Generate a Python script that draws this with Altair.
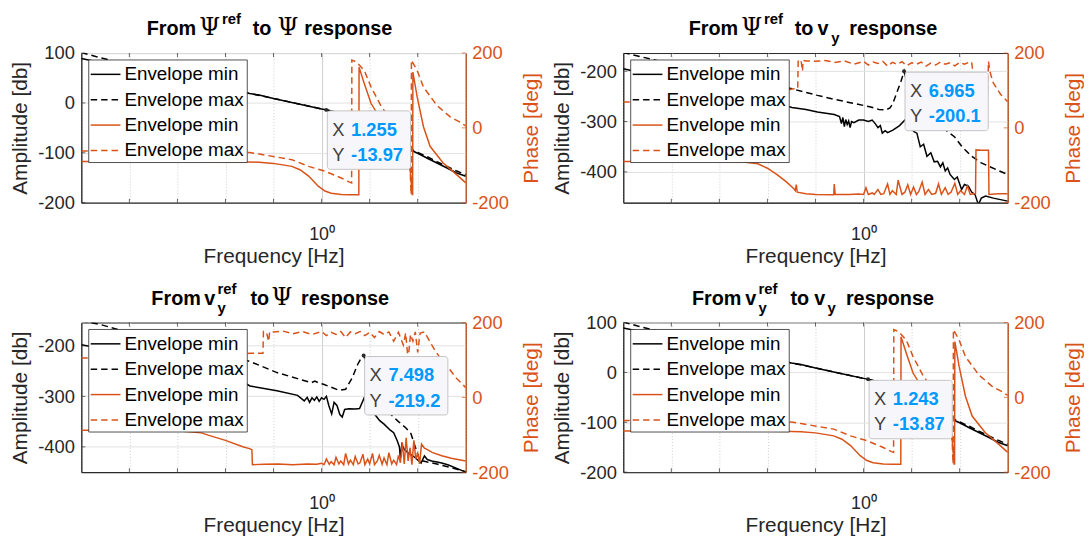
import altair as alt
import pandas as pd

FONT = "Liberation Sans"
SERIF = "DejaVu Serif"
DARK = "#262626"
ORANGE = "#D95319"
BLUE = "#0099FF"
W, H = 388, 151
DASH = [6.5, 4]

X_DOMAIN = [1e-5, 1e3]
DECADES = [1e-5, 1e-4, 1e-3, 1e-2, 1e-1, 1, 1e1, 1e2, 1e3]
INNER_DECADES = [1e-4, 1e-3, 1e-2, 1e-1, 1, 1e1, 1e2]
PHASE_DOMAIN = [-200, 200]
PHASE_TICKS = [-200, 0, 200]
LEGEND_LABELS = ["Envelope min", "Envelope max", "Envelope min", "Envelope max"]

# ---------------- Panel 1 / 4 : log10(frequency) and values ----------------
P1_AMP_MIN_LOGF = [-5, -4.5, -4, -3.5, -3, -2.5, -2, -1.5, -1.3, -1, -0.5, 0, 0.0987, 0.3, 0.5,
                   0.7, 0.78, 0.9, 1.1, 1.3, 1.5, 1.7, 1.85, 1.92, 2.0, 2.2, 2.4, 2.6, 2.8, 3.0]
P1_AMP_MIN = [89, 79, 69, 59, 49, 39, 29.5, 19, 16, 9, -1.5, -12, -13.97, -18, -22,
              -27, -30, -36, -46, -57, -67, -79, -90, -97.5, -101, -111, -120.5, -130, -140, -147]
P1_AMP_MAX_LOGF = [-5, -4.7, -4.4, -4, -3.5, -3, -2.5, -2, -1.5, -1, -0.5, 0, 0.3, 0.7, 1.1,
                   1.5, 1.85, 1.92, 2.0, 2.2, 2.4, 2.6, 2.8, 3.0]
P1_AMP_MAX = [101, 93, 86, 76, 63, 51, 40, 29.5, 19, 9, -1.5, -12, -18, -27, -46,
              -67, -90, -96, -99, -108, -118, -127, -136, -144]
P1_PH_MIN_LOGF = [-5, -3, -2, -1.5, -1.3, -1, -0.62, -0.45, -0.27, -0.07, 0.07, 0.2, 0.41, 0.6, 0.775,
                  0.78, 0.89, 1.03, 1.16, 1.3, 1.43, 1.64, 1.76, 1.82, 1.86, 1.885, 1.895, 1.9, 1.99, 2.12,
                  2.26, 2.53, 2.81, 3.0]
P1_PH_MIN = [-90, -90, -90.5, -91, -92, -95, -103, -112, -129, -156, -169, -175, -178, -179, -179,
             162, 118, 65, 38, 16, -6, -50, -76, -94, -130, -178, -178, 149, 82, 3,
             -50, -94, -125, -147]
P1_PH_MAX_LOGF = [-5, -2, -1.5, -1.3, -0.62, -0.27, 0.07, 0.41, 0.58, 0.625, 0.63, 0.73, 0.89, 1.03, 1.23,
                  1.44, 1.64, 1.8, 1.84, 1.86, 1.865, 1.87, 1.99, 2.12, 2.4, 2.67, 2.87, 3.0]
P1_PH_MAX = [-62, -63, -66, -70, -85, -103, -116, -134, -145, -147, 181, 176, 153, 109, 60,
             21, -15, -50, -100, -170, -178, 181, 153, 109, 60, 30, 16, 5]

# ---------------- Panel 2 ----------------
P2_AMP_MAX_LOGF = [-5, -4.7, -4.33, -4, -3, -2, -1.49, -1.2, -0.96, -0.6, -0.25, 0, 0.15, 0.32, 0.46,
                   0.55, 0.61, 0.71, 0.78, 0.843, 0.9, 1.0, 1.18, 1.35, 1.54, 1.7, 1.89, 2.05, 2.25, 2.45,
                   2.61, 2.8, 3.0]
P2_AMP_MAX = [-163, -170, -178, -186, -205, -224, -235, -242, -248, -256, -263, -268, -271, -276, -277,
              -273, -264, -238, -220, -200.1, -225, -255, -284, -295, -304, -316, -330, -350, -369, -382,
              -389, -397, -405]
P2_AMP_MIN_LOGF = [-5, -4, -3, -2, -1.49, -1.2, -0.96, -0.61, -0.5, -0.46, -0.43, -0.4, -0.37, -0.34, -0.31,
                   -0.28, -0.25, -0.2, -0.1, 0, 0.1, 0.18, 0.25, 0.3, 0.35, 0.39, 0.45, 0.5, 0.61, 0.75,
                   0.86, 0.95, 1.05, 1.11, 1.18, 1.25, 1.32, 1.4, 1.47, 1.54, 1.6, 1.65, 1.7, 1.75, 1.8,
                   1.89, 1.95, 2.04, 2.1, 2.18, 2.25, 2.32, 2.39, 2.45, 2.54, 2.7, 2.85, 3.0]
P2_AMP_MIN = [-195, -216, -237, -258, -272, -276, -281, -286, -290, -304, -292, -310, -296, -306, -299,
              -312, -300, -302, -297, -297, -300, -297, -305, -312, -308, -323, -318, -322, -317, -308,
              -297, -305, -320, -323, -350, -345, -369, -362, -380, -379, -390, -382, -398, -392, -405,
              -415, -410, -435, -425, -428, -440, -445, -465, -452, -448, -452, -455, -458]
P2_PH_MIN_LOGF = [-5, -3, -2.5, -2.2, -2.0, -1.8, -1.6, -1.45, -1.42, -1.4, -1.38, -1.2, -1.0, -0.62, -0.61,
                  -0.59, -0.3, -0.1, 0.0, 0.05, 0.1, 0.18, 0.22, 0.3, 0.36, 0.42, 0.5, 0.55, 0.6, 0.68,
                  0.72, 0.8, 0.86, 0.92, 0.98, 1.04, 1.1, 1.15, 1.22, 1.28, 1.35, 1.42, 1.5, 1.56, 1.62,
                  1.7, 1.76, 1.82, 1.9, 1.96, 2.02, 2.1, 2.16, 2.22, 2.3, 2.33, 2.34, 2.45, 2.6, 2.61,
                  2.8, 3.0]
P2_PH_MIN = [-90, -90, -91, -96, -108, -125, -145, -163, -168, -152, -172, -176, -178, -179, -150,
             -178, -178, -177, -178, -160, -178, -174, -178, -165, -178, -176, -150, -178, -168, -178,
             -140, -178, -172, -152, -178, -158, -178, -170, -145, -178, -165, -178, -175, -150, -178,
             -160, -178, -172, -148, -178, -168, -178, -155, -178, -176, -176, -59, -60, -60, -178,
             -176, -176]
P2_PH_MAX_LOGF = [-5, -3, -2, -1.49, -1.37, -1.36, -1.3, -1.27, -1.26, -1.2, -1.0, -0.8, -0.6, -0.4, -0.2,
                  0, 0.1, 0.2, 0.3, 0.4, 0.5, 0.6, 0.7, 0.8, 0.9, 1.0, 1.1, 1.2, 1.3, 1.4,
                  1.5, 1.6, 1.7, 1.8, 1.9, 2.0, 2.1, 2.2, 2.25, 2.3, 2.34, 2.5, 2.58, 2.6, 2.63,
                  2.7, 2.85, 3.0]
P2_PH_MAX = [69, 70, 82, 104, 105, 181, 180, 152, 180, 179, 178, 180, 175, 179, 170,
             178, 168, 176, 172, 178, 165, 175, 170, 177, 166, 174, 170, 176, 165, 173,
             168, 176, 170, 174, 166, 175, 170, 176, 176, 120, 100, 95, 92, 178, 150,
             120, 90, 70]

# ---------------- Panel 3 ----------------
P3_AMP_MAX_LOGF = [-5, -4.6, -4.3, -4, -3, -2, -1.49, -0.93, -0.5, -0.21, -0.14, -0.05, 0.04, 0.2, 0.36,
                   0.5, 0.64, 0.75, 0.84, 0.875, 0.95, 1.1, 1.3, 1.43, 1.6, 1.75, 1.86, 1.95, 2.04, 2.2,
                   2.4, 2.7, 3.0]
P3_AMP_MAX = [-150, -158, -166, -175, -196, -218, -231, -253, -265, -273, -270, -274, -276, -282, -288,
              -286, -263, -237, -222, -219.2, -240, -275, -310, -335, -350, -362, -374, -400, -426, -430,
              -434, -441, -449]
P3_AMP_MIN_LOGF = [-5, -4.5, -4, -3, -2, -1.49, -0.93, -0.5, -0.36, -0.3, -0.25, -0.2, -0.15, -0.1, -0.05,
                   0.0, 0.05, 0.1, 0.15, 0.21, 0.26, 0.32, 0.38, 0.43, 0.48, 0.57, 0.7, 0.79, 0.89, 1.0,
                   1.1, 1.21, 1.3, 1.43, 1.5, 1.57, 1.62, 1.64, 1.67, 1.72, 1.8, 1.93, 2.0, 2.07, 2.14,
                   2.2, 2.29, 2.4, 2.5, 2.64, 2.8, 3.0]
P3_AMP_MIN = [-198, -207, -216, -234, -252, -279.5, -289, -298, -309, -302, -312, -303, -308, -301, -310,
              -303, -306, -300, -318, -335, -312, -318, -336, -341, -326, -324.5, -325, -324, -302, -320,
              -335, -348, -355, -367, -372, -387, -400, -423, -395, -405, -412, -420, -426, -432, -418,
              -425, -428, -430, -432, -436, -442, -450]
P3_PH_MIN_LOGF = [-5, -3, -2.5, -2.36, -2.0, -1.64, -1.5, -1.45, -1.44, -1.2, -0.9, -0.6, -0.3, -0.1, 0.0,
                  0.05, 0.1, 0.16, 0.2, 0.26, 0.3, 0.36, 0.4, 0.46, 0.5, 0.56, 0.6, 0.66, 0.7, 0.76,
                  0.8, 0.86, 0.9, 0.96, 1.0, 1.06, 1.1, 1.16, 1.2, 1.26, 1.3, 1.36, 1.4, 1.46, 1.5,
                  1.56, 1.6, 1.64, 1.68, 1.72, 1.76, 1.8, 1.84, 1.88, 1.92, 1.96, 2.0, 2.04, 2.08, 2.14,
                  2.2, 2.3, 2.5, 2.7, 3.0]
P3_PH_MIN = [-88, -89, -95, -101, -115, -132, -137, -140, -180, -179, -178, -180, -178, -179, -176,
             -180, -165, -179, -172, -180, -160, -178, -170, -180, -150, -178, -168, -180, -158, -178,
             -175, -152, -180, -165, -178, -150, -180, -170, -155, -179, -162, -180, -148, -178, -168,
             -180, -155, -175, -120, -178, -108, -170, -135, -180, -115, -165, -150, -178, -125, -136,
             -140, -147, -156, -163, -170]
P3_PH_MAX_LOGF = [-5, -3, -2, -1.49, -1.22, -1.21, -1.15, -1.1, -1.08, -1.0, -0.8, -0.6, -0.4, -0.2, 0.0,
                  0.1, 0.2, 0.3, 0.4, 0.5, 0.6, 0.7, 0.8, 0.9, 1.0, 1.1, 1.2, 1.3, 1.4, 1.5,
                  1.6, 1.7, 1.75, 1.8, 1.85, 1.9, 1.95, 2.0, 2.05, 2.14, 2.25, 2.36, 2.5, 2.64, 2.8,
                  3.0]
P3_PH_MAX = [105, 106, 110, 118, 118, 176, 175, 150, 176, 175, 177, 170, 176, 168, 176,
             165, 174, 168, 176, 160, 175, 170, 176, 165, 174, 160, 176, 168, 175, 150,
             174, 140, 172, 100, 168, 150, 175, 120, 172, 175, 150, 125, 100, 79, 52,
             26]

# ---------------- data tips, scales, titles ----------------
TIP_F = [1.255, 6.965, 7.498, 1.243]
TIP_A = [-13.97, -200.1, -219.2, -13.87]
AMP_DOMAINS = [[-200, 100], [-461, -164], [-450, -154], [-200, 100]]
AMP_TICKS = [[-200, -100, 0, 100], [-400, -300, -200], [-400, -300, -200], [-200, -100, 0, 100]]

TITLES = [
    [("From", 66, "main"), ("Ψ", 119, "psi"), ("ref", 142, "sup"), ("to", 173, "main"),
     ("Ψ", 198, "psi"), ("response", 225, "main")],
    [("From", 66, "main"), ("Ψ", 119, "psi"), ("ref", 142, "sup"), ("to", 173, "main"),
     ("v", 196, "main"), ("y", 210, "sub"), ("response", 228, "main")],
    [("From", 70.7, "main"), ("v", 124, "main"), ("ref", 137.5, "sup"), ("y", 137.5, "sub"),
     ("to", 170.7, "main"), ("Ψ", 192, "psi"), ("response", 221.7, "main")],
    [("From", 69.3, "main"), ("v", 123, "main"), ("ref", 136.5, "sup"), ("y", 136.5, "sub"),
     ("to", 168.7, "main"), ("v", 192.7, "main"), ("y", 206, "sub"), ("response", 224.7, "main")],
]

CURVES = [
    (P1_AMP_MIN_LOGF, P1_AMP_MIN, P1_AMP_MAX_LOGF, P1_AMP_MAX, P1_PH_MIN_LOGF, P1_PH_MIN, P1_PH_MAX_LOGF, P1_PH_MAX),
    (P2_AMP_MIN_LOGF, P2_AMP_MIN, P2_AMP_MAX_LOGF, P2_AMP_MAX, P2_PH_MIN_LOGF, P2_PH_MIN, P2_PH_MAX_LOGF, P2_PH_MAX),
    (P3_AMP_MIN_LOGF, P3_AMP_MIN, P3_AMP_MAX_LOGF, P3_AMP_MAX, P3_PH_MIN_LOGF, P3_PH_MIN, P3_PH_MAX_LOGF, P3_PH_MAX),
    (P1_AMP_MIN_LOGF, P1_AMP_MIN, P1_AMP_MAX_LOGF, P1_AMP_MAX, P1_PH_MIN_LOGF, P1_PH_MIN, P1_PH_MAX_LOGF, P1_PH_MAX),
]

ONE = pd.DataFrame({"k": [0]})


def txt(s, x, y, size, weight="normal", color=DARK, font=FONT, baseline="alphabetic"):
    return alt.Chart(ONE).mark_text(
        text=s, font=font, fontSize=size, fontWeight=weight, color=color,
        align="left", baseline=baseline,
    ).encode(x=alt.value(x), y=alt.value(y))


def panel(k):
    amin_f, amin, amax_f, amax, pmin_f, pmin, pmax_f, pmax = CURVES[k]
    xs = alt.Scale(type="log", domain=X_DOMAIN, nice=False)
    ys_amp = alt.Scale(domain=AMP_DOMAINS[k], nice=False, zero=False)
    ys_ph = alt.Scale(domain=PHASE_DOMAIN, nice=False, zero=False)

    x_axis = alt.Axis(
        values=DECADES, labelExpr="datum.value == 1 ? '10⁰' : ''", labelOverlap=False,
        labelFlush=False, labelFontSize=18, labelColor=DARK, labelPadding=37,
        labelBaseline="alphabetic", ticks=False, tickSize=0, domainColor=DARK,
        grid=True, gridColor="#cdcdcd", gridWidth=1,
        gridDash={"condition": {"test": "datum.value == 1", "value": []}, "value": [1, 2]},
        title="Frequency [Hz]", titleFontSize=21, titleFontWeight="normal", titleColor=DARK,
        titleY=60, titleBaseline="alphabetic",
    )
    amp_axis = alt.Axis(
        values=AMP_TICKS[k], labelExpr="datum.value + ''", labelFontSize=18.5, labelColor=DARK,
        labelPadding=7, ticks=False, tickSize=0, domainColor=DARK, grid=True,
        gridColor="#e2e2e2", title="Amplitude [db]", titleFontSize=21, titleFontWeight="normal",
        titleColor=DARK, titleX=-55, titleY=H / 2, titleAngle=270, titleAlign="center",
        titleBaseline="alphabetic",
    )
    ph_axis = alt.Axis(
        orient="right", values=PHASE_TICKS, labelExpr="datum.value + ''", labelFontSize=18.5,
        labelColor=ORANGE, labelPadding=6, ticks=False, tickSize=0, domainColor=ORANGE,
        grid=False, title="Phase [deg]", titleFontSize=21, titleFontWeight="normal",
        titleColor=ORANGE, titleX=72, titleY=H / 2, titleAngle=270, titleAlign="center",
        titleBaseline="alphabetic",
    )

    def line(logf, vals, color, dashed, yscale, yaxis):
        df = pd.DataFrame({"f": [10.0 ** v for v in logf], "v": vals, "i": list(range(len(vals)))})
        mk = dict(color=color, strokeWidth=1.5, clip=True)
        if dashed:
            mk["strokeDash"] = DASH
        return alt.Chart(df).mark_line(**mk).encode(
            x=alt.X("f:Q", scale=xs, axis=x_axis),
            y=alt.Y("v:Q", scale=yscale, axis=yaxis),
            order=alt.Order("i:Q"),
        )

    # inward tick marks (MATLAB box style)
    amp_ticks = alt.Chart(pd.DataFrame({"v": AMP_TICKS[k]})).mark_tick(
        orient="horizontal", size=4, thickness=1, color=DARK).encode(
        x=alt.value(2), y=alt.Y("v:Q", scale=ys_amp, axis=amp_axis))
    ph_ticks = alt.Chart(pd.DataFrame({"v": PHASE_TICKS})).mark_tick(
        orient="horizontal", size=4, thickness=1, color=ORANGE).encode(
        x=alt.value(W - 2), y=alt.Y("v:Q", scale=ys_ph, axis=ph_axis))
    dec_df = pd.DataFrame({"f": INNER_DECADES})
    bottom_ticks = alt.Chart(dec_df).mark_tick(
        orient="vertical", size=4, thickness=1, color=DARK).encode(
        x=alt.X("f:Q", scale=xs, axis=x_axis), y=alt.value(H - 2))
    top_ticks = alt.Chart(dec_df).mark_tick(
        orient="vertical", size=4, thickness=1, color=DARK).encode(
        x=alt.X("f:Q", scale=xs, axis=x_axis), y=alt.value(2))

    amp = alt.layer(
        line(amin_f, amin, "#000000", False, ys_amp, amp_axis),
        line(amax_f, amax, "#000000", True, ys_amp, amp_axis),
        amp_ticks,
    )
    ph = alt.layer(
        line(pmin_f, pmin, ORANGE, False, ys_ph, ph_axis),
        line(pmax_f, pmax, ORANGE, True, ys_ph, ph_axis),
        ph_ticks,
    )

    # legend box
    legend = [alt.Chart(ONE).mark_rect(fill="white", stroke=DARK, strokeWidth=0.8).encode(
        x=alt.value(7.5), x2=alt.value(167.5), y=alt.value(7), y2=alt.value(110.5))]
    colors = ["#000000", "#000000", ORANGE, ORANGE]
    dashes = [False, True, False, True]
    for r in range(4):
        ry = 21.5 + 25.6 * r
        mk = dict(color=colors[r], strokeWidth=1.5)
        if dashes[r]:
            mk["strokeDash"] = DASH
        legend.append(alt.Chart(ONE).mark_rule(**mk).encode(
            x=alt.value(9.5), x2=alt.value(39.5), y=alt.value(ry)))
        legend.append(txt(LEGEND_LABELS[r], 43.5, ry, 19, color="#000000", baseline="middle"))

    # data tip (own y scale with the same domain, drawn on top of everything)
    tdf = pd.DataFrame({"f": [TIP_F[k]], "v": [TIP_A[k]],
                        "xs": [str(TIP_F[k])], "ys": [str(TIP_A[k])]})
    base = alt.Chart(tdf).encode(
        x=alt.X("f:Q", scale=xs, axis=x_axis),
        y=alt.Y("v:Q", scale=ys_amp, axis=None),
    )
    tip = alt.layer(
        base.mark_rect(fill="#f7f7fb", stroke="#c4c4c4", strokeWidth=1, cornerRadius=3,
                       xOffset=1, x2Offset=85, yOffset=1, y2Offset=60).encode(x2="f", y2="v"),
        base.mark_point(shape="circle", filled=True, size=16, color="#2b2b2b", opacity=1),
        base.mark_text(text="X", dx=6, dy=20, align="left", baseline="middle", fontSize=18.5,
                       color="#404040"),
        base.mark_text(dx=25, dy=20, align="left", baseline="middle", fontSize=18.5,
                       fontWeight="bold", color=BLUE).encode(text="xs:N"),
        base.mark_text(text="Y", dx=6, dy=45.5, align="left", baseline="middle", fontSize=18.5,
                       color="#404040"),
        base.mark_text(dx=25, dy=45.5, align="left", baseline="middle", fontSize=18.5,
                       fontWeight="bold", color=BLUE).encode(text="ys:N"),
    )

    # title pieces
    title = []
    for s, x, kind in TITLES[k]:
        if kind == "main":
            title.append(txt(s, x, -18, 20, "bold", "#000000"))
        elif kind == "psi":
            title.append(txt(s, x, -18, 24, "normal", "#000000", SERIF))
        elif kind == "sup":
            title.append(txt(s, x, -29, 15, "bold", "#000000"))
        else:
            title.append(txt(s, x, -10, 15, "bold", "#000000"))

    return alt.layer(amp, ph, bottom_ticks, top_ticks, tip, *legend, *title).resolve_scale(
        y="independent").properties(width=W, height=H)


chart = alt.concat(
    panel(0), panel(1), panel(2), panel(3),
    columns=2, spacing={"row": 121, "column": 159}, bounds="flush",
).properties(
    padding={"left": 1, "top": 1, "right": 0, "bottom": 0}
).configure(font=FONT).configure_view(stroke=DARK, strokeWidth=1)

chart.save("out.html", embed_options={"renderer": "svg", "actions": False})
